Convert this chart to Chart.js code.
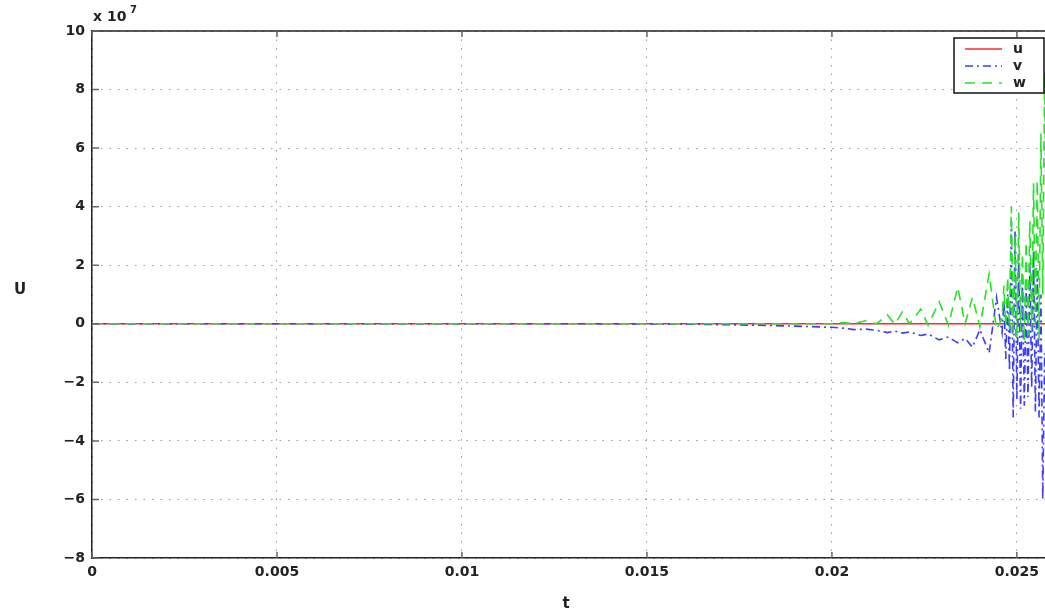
<!DOCTYPE html>
<html>
<head>
<meta charset="utf-8">
<script src="https://cdn.jsdelivr.net/npm/chart.js@4.4.1/dist/chart.umd.min.js"></script>
<style>
  html, body { margin: 0; padding: 0; background: #fff; overflow: hidden; }
  #wrap { width: 1045px; height: 614px; }
</style>
</head>
<body>
<div id="wrap"><canvas id="c"></canvas></div>
<script>
// values in units of 1e7
const tValues = [
  0, 0.002, 0.004, 0.006, 0.008, 0.010, 0.012, 0.014, 0.016, 0.017, 0.018, 0.019, 0.0200,
  0.0203, 0.0206, 0.0209, 0.0212, 0.0215, 0.0217, 0.0219, 0.0221, 0.0224, 0.0226, 0.0229,
  0.02315, 0.0234, 0.0236, 0.0238, 0.0240, 0.02425, 0.02445,
  0.02460, 0.02465, 0.02470, 0.02475, 0.02480, 0.02485, 0.02490, 0.02495, 0.02500,
  0.02505, 0.02510, 0.02515, 0.02520, 0.02525, 0.02530, 0.02535, 0.02540, 0.02545,
  0.02550, 0.02555, 0.02560, 0.02565, 0.02570, 0.02575, 0.02580
];
const vValues = [
  0, 0, 0, 0, 0, 0, 0, 0, -0.01, -0.03, -0.05, -0.08, -0.12,
  -0.15, -0.2, -0.18, -0.22, -0.3, -0.25, -0.32, -0.28, -0.4, -0.35, -0.55,
  -0.45, -0.65, -0.5, -0.8, -0.2, -1.0, 0.9,
  -0.3, 0.8, -1.2, 1.0, -1.6, 3.5, -3.2, 3.2, -2.6,
  2.4, -2.9, 1.6, -2.8, 1.2, -2.5, 2.0, -2.2, 2.5,
  -3.0, 1.8, -3.2, 1.0, -6.0, -1.0, -4.0
];
const wValues = [
  0, 0, 0, 0, 0, 0, 0, 0, 0, 0, 0, 0, 0,
  0.04, 0.0, 0.1, 0.0, 0.3, -0.02, 0.4, 0.0, 0.5, -0.05, 0.75,
  -0.05, 1.25, 0.0, 0.9, -0.1, 1.7, -0.2,
  0.2, 1.3, -0.1, 1.6, -0.2, 4.0, -0.4, 3.0, -0.5,
  3.8, -0.3, 2.4, -0.6, 2.8, -0.4, 3.5, -0.2, 4.8,
  0.0, 4.9, -0.5, 6.5, 1.0, 8.6, 2.0
];
const uT = [0, 0.0258];
const uValues = [0, 0];

const xTicks = [0, 0.005, 0.01, 0.015, 0.02, 0.025];
const yTicks = [-8, -6, -4, -2, 0, 2, 4, 6, 8, 10];

const tickFont = { family: 'DejaVu Sans', size: 14, weight: 'bold' };

function pts(xs, ys) { return xs.map((x, i) => ({ x: x, y: ys[i] })); }

const decor = {
  id: 'decor',
  afterDraw(chart) {
    const { ctx, chartArea: a, scales } = chart;
    const x = scales.x, y = scales.y;
    ctx.save();
    // top frame line
    ctx.strokeStyle = '#222';
    ctx.lineWidth = 1.5;
    ctx.beginPath();
    ctx.moveTo(a.left, a.top);
    ctx.lineTo(a.right, a.top);
    ctx.stroke();
    // inward tick marks
    ctx.strokeStyle = '#666';
    ctx.beginPath();
    xTicks.forEach(v => {
      const px = x.getPixelForValue(v);
      ctx.moveTo(px, a.bottom); ctx.lineTo(px, a.bottom - 6);
      ctx.moveTo(px, a.top); ctx.lineTo(px, a.top + 6);
    });
    yTicks.forEach(v => {
      const py = y.getPixelForValue(v);
      ctx.moveTo(a.left, py); ctx.lineTo(a.left + 7, py);
    });
    ctx.stroke();

    // labels
    ctx.fillStyle = '#222';
    ctx.font = 'bold 14px "DejaVu Sans"';
    ctx.textBaseline = 'alphabetic';
    ctx.textAlign = 'left';
    ctx.fillText('x 10', a.left + 1, a.top - 10);
    ctx.font = 'bold 10px "DejaVu Sans"';
    ctx.fillText('7', a.left + 38, a.top - 18);
    ctx.font = 'bold 15px "DejaVu Sans"';
    ctx.textAlign = 'center';
    ctx.textBaseline = 'middle';
    ctx.fillText('U', 20, 290);
    ctx.fillText('t', 566, 604);

    // legend
    const lx = 954, ly = 38, lw = 90, lh = 55;
    ctx.fillStyle = '#fff';
    ctx.fillRect(lx, ly, lw, lh);
    ctx.strokeStyle = '#111';
    ctx.lineWidth = 1.5;
    ctx.strokeRect(lx, ly, lw, lh);
    chart.data.datasets.forEach((ds, i) => {
      const yy = ly + 11 + i * 17;
      ctx.strokeStyle = ds.borderColor;
      ctx.lineWidth = 1.5;
      ctx.setLineDash(ds.borderDash || []);
      ctx.beginPath();
      ctx.moveTo(lx + 11, yy);
      ctx.lineTo(lx + 48, yy);
      ctx.stroke();
      ctx.setLineDash([]);
      ctx.fillStyle = '#222';
      ctx.font = 'bold 14px "DejaVu Sans"';
      ctx.textAlign = 'left';
      ctx.fillText(ds.label, lx + 59, yy);
    });
    ctx.restore();
  }
};

new Chart(document.getElementById('c'), {
  type: 'line',
  data: {
    datasets: [
      { label: 'u', data: pts(uT, uValues), borderColor: 'rgb(255,40,40)', borderWidth: 1.5, order: 3 },
      { label: 'v', data: pts(tValues, vValues), borderColor: 'rgb(60,60,255)', borderWidth: 1.6, borderDash: [8, 4, 2, 4], order: 2 },
      { label: 'w', data: pts(tValues, wValues), borderColor: 'rgb(40,225,40)', borderWidth: 1.6, borderDash: [10, 7], order: 1 }
    ]
  },
  options: {
    responsive: true,
    maintainAspectRatio: false,
    animation: false,
    elements: { point: { radius: 0 }, line: { tension: 0 } },
    layout: { padding: { top: 31, right: 0, left: 0, bottom: 0 } },
    plugins: { legend: { display: false }, tooltip: { enabled: false } },
    scales: {
      x: {
        type: 'linear',
        min: 0,
        max: 0.02576,
        afterBuildTicks: s => { s.ticks = xTicks.map(v => ({ value: v })); },
        afterFit: s => { s.height = 56; s.paddingRight = 0; },
        ticks: { font: tickFont, color: '#222', padding: 6, maxRotation: 0, callback: v => String(v) },
        grid: { color: '#999', lineWidth: 1, drawTicks: false },
        border: { color: '#222', width: 1.5, dash: [1.5, 7] }
      },
      y: {
        min: -8,
        max: 10,
        afterBuildTicks: s => { s.ticks = yTicks.map(v => ({ value: v })); },
        afterFit: s => { s.width = 92; },
        ticks: { font: tickFont, color: '#222', padding: 7, callback: v => (v < 0 ? '\u2212' + Math.abs(v) : String(v)) },
        grid: { color: '#999', lineWidth: 1, drawTicks: false },
        border: { color: '#222', width: 1.5, dash: [1.5, 7] }
      }
    }
  },
  plugins: [decor]
});
</script>
</body>
</html>
